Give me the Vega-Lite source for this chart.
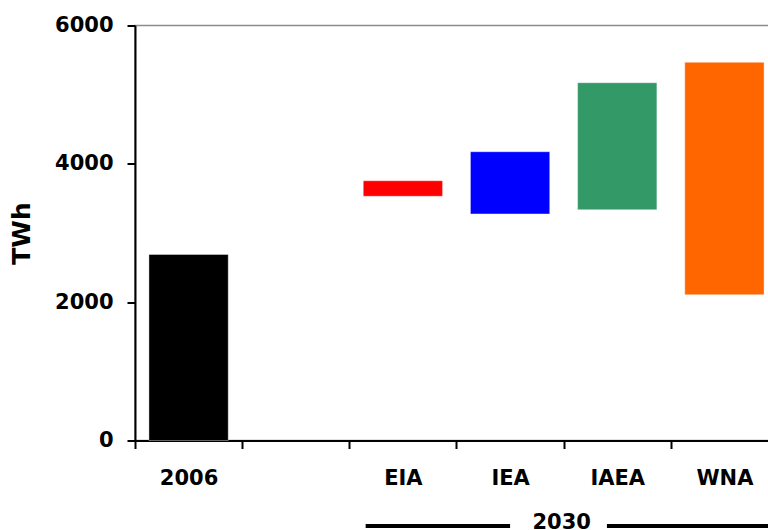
{
  "$schema": "https://vega.github.io/schema/vega-lite/v6.json",
  "width": 643,
  "height": 415,
  "autosize": {"type": "none"},
  "padding": {"left": 135, "top": 25.5, "right": 0, "bottom": 89.5},
  "config": {
    "view": {"stroke": "#8c8c8c", "strokeWidth": 1.5},
    "font": "DejaVu Sans"
  },
  "layer": [
    {
      "data": {
        "values": [
          {"source": "2006", "low": 0, "high": 2690},
          {"source": "EIA", "low": 3531, "high": 3756},
          {"source": "IEA", "low": 3275, "high": 4175},
          {"source": "IAEA", "low": 3337, "high": 5173},
          {"source": "WNA", "low": 2108, "high": 5468}
        ]
      },
      "mark": {"type": "bar", "stroke": "#ffffff", "strokeOpacity": 0.4, "strokeWidth": 1},
      "encoding": {
        "x": {
          "field": "source",
          "type": "nominal",
          "sort": null,
          "title": null,
          "scale": {
            "domain": ["2006", " ", "EIA", "IEA", "IAEA", "WNA"],
            "paddingInner": 0.26,
            "paddingOuter": 0.13
          },
          "axis": {
            "labelAngle": 0,
            "domainColor": "#000000",
            "domainWidth": 2,
            "tickColor": "#000000",
            "tickWidth": 2,
            "tickSize": 8,
            "tickBand": "center",
            "tickOffset": -53.6,
            "labelOffset": 53.6,
            "labelFont": "DejaVu Sans",
            "labelFontWeight": "bold",
            "labelFontSize": 21,
            "labelColor": "#000000",
            "labelPadding": 19
          }
        },
        "y": {
          "field": "low",
          "type": "quantitative",
          "title": "TWh",
          "scale": {"domain": [0, 6000], "nice": false},
          "axis": {
            "titleFont": "DejaVu Sans",
            "titleFontSize": 25,
            "titleFontWeight": "bold",
            "titleColor": "#000000",
            "titlePadding": 20,
            "values": [0, 2000, 4000, 6000],
            "format": "d",
            "grid": false,
            "domainColor": "#000000",
            "domainWidth": 2,
            "tickColor": "#000000",
            "tickWidth": 2,
            "tickSize": 8,
            "labelFont": "DejaVu Sans",
            "labelFontSize": 21,
            "labelFontWeight": "bold",
            "labelColor": "#000000",
            "labelPadding": 14,
            "labelOverlap": false
          }
        },
        "y2": {"field": "high"},
        "color": {
          "field": "source",
          "type": "nominal",
          "scale": {
            "domain": ["2006", "EIA", "IEA", "IAEA", "WNA"],
            "range": ["#000000", "#ff0000", "#0000ff", "#339966", "#ff6600"]
          },
          "legend": null
        }
      }
    },
    {
      "data": {"values": [{"from": "EIA", "to": "IEA", "level": -1236}]},
      "mark": {"type": "rule", "strokeWidth": 4, "color": "#000000"},
      "encoding": {
        "x": {"field": "from", "type": "nominal", "bandPosition": 0.03, "title": null},
        "x2": {"field": "to", "bandPosition": 0.5},
        "y": {"field": "level", "type": "quantitative", "title": "TWh"}
      }
    },
    {
      "data": {"values": [{"from": "IAEA", "to": "WNA", "level": -1236}]},
      "mark": {"type": "rule", "strokeWidth": 4, "color": "#000000"},
      "encoding": {
        "x": {"field": "from", "type": "nominal", "bandPosition": 0.37, "title": null},
        "x2": {"field": "to", "bandPosition": 1.2},
        "y": {"field": "level", "type": "quantitative", "title": "TWh"}
      }
    },
    {
      "data": {"values": [{"group": "IEA", "label": "2030", "level": -1285}]},
      "mark": {
        "type": "text",
        "font": "DejaVu Sans",
        "fontSize": 21,
        "fontWeight": "bold",
        "baseline": "alphabetic",
        "align": "center",
        "color": "#000000"
      },
      "encoding": {
        "x": {"field": "group", "type": "nominal", "bandPosition": 1.15, "title": null},
        "y": {"field": "level", "type": "quantitative", "title": "TWh"},
        "text": {"field": "label"}
      }
    }
  ]
}
